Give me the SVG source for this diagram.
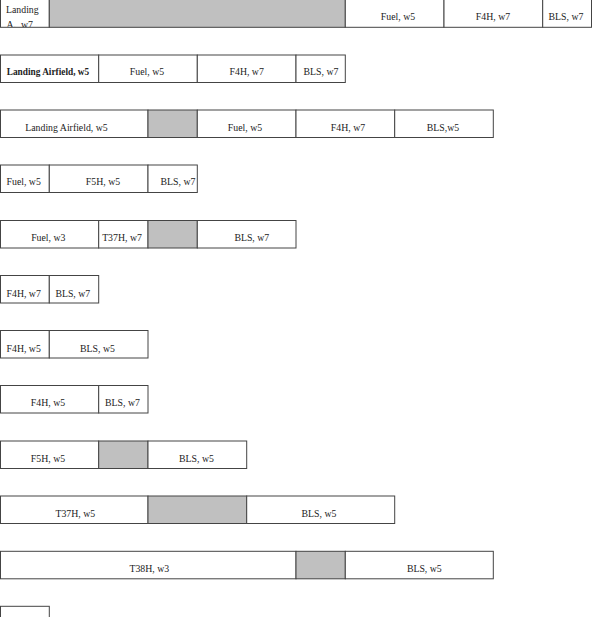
<svg xmlns="http://www.w3.org/2000/svg" width="593" height="617" viewBox="0 0 593 617">
<style>
rect.c{fill:#fff;stroke:#444;stroke-width:1}
rect.g{fill:#c0c0c0;stroke:#444;stroke-width:1}
text{font-family:"Liberation Serif","Times New Roman",serif;font-size:9.8px;fill:#222}
text.m{text-anchor:middle}
text.b{font-weight:bold}
</style>
<defs>
<clipPath id="clipA"><rect x="0" y="0" width="49.3" height="27"/></clipPath>
</defs>
<rect x="0" y="0" width="593" height="617" fill="#fff"/>
<!-- Row 1 -->
<g id="row1">
<g id="r1-landing"><rect class="c" x="0.5" y="-1" width="48.8" height="28.3"/><g clip-path="url(#clipA)"><text x="6" y="13">Landing</text><text x="6.5" y="28">A., w7</text></g></g>
<g id="r1-gap"><rect class="g" x="49.3" y="-1" width="296" height="28.3"/></g>
<g id="r1-fuel"><rect class="c" x="345.3" y="-1" width="98.7" height="28.3"/><text class="m" x="398" y="20">Fuel, w5</text></g>
<g id="r1-f4h"><rect class="c" x="444" y="-1" width="98.7" height="28.3"/><text class="m" x="493" y="20">F4H, w7</text></g>
<g id="r1-bls"><rect class="c" x="542.7" y="-1" width="48.8" height="28.3"/><text class="m" x="566" y="20">BLS, w7</text></g>
</g>
<!-- Row 2 -->
<g id="row2">
<g id="r2-landing"><rect class="c" x="0.5" y="55" width="98.2" height="27.5"/><text class="b" x="6.7" y="75" textLength="82.5" lengthAdjust="spacingAndGlyphs">Landing Airfield, w5</text></g>
<g id="r2-fuel"><rect class="c" x="98.7" y="55" width="98.6" height="27.5"/><text class="m" x="147" y="75">Fuel, w5</text></g>
<g id="r2-f4h"><rect class="c" x="197.3" y="55" width="98.7" height="27.5"/><text class="m" x="246.7" y="75">F4H, w7</text></g>
<g id="r2-bls"><rect class="c" x="296" y="55" width="49.3" height="27.5"/><text class="m" x="321" y="75">BLS, w7</text></g>
</g>
<!-- Row 3 -->
<g id="row3">
<g id="r3-landing"><rect class="c" x="0.5" y="110" width="147.5" height="27.5"/><text class="m" x="66.5" y="130.5">Landing Airfield, w5</text></g>
<g id="r3-gap"><rect class="g" x="148" y="110" width="49.3" height="27.5"/></g>
<g id="r3-fuel"><rect class="c" x="197.3" y="110" width="98.7" height="27.5"/><text class="m" x="245" y="130.5">Fuel, w5</text></g>
<g id="r3-f4h"><rect class="c" x="296" y="110" width="98.7" height="27.5"/><text class="m" x="348" y="130.5">F4H, w7</text></g>
<g id="r3-bls"><rect class="c" x="394.7" y="110" width="98.6" height="27.5"/><text class="m" x="443" y="130.5">BLS,w5</text></g>
</g>
<!-- Row 4 -->
<g id="row4">
<g id="r4-fuel"><rect class="c" x="0.5" y="165" width="48.8" height="27.5"/><text class="m" x="23.7" y="185">Fuel, w5</text></g>
<g id="r4-f5h"><rect class="c" x="49.3" y="165" width="98.7" height="27.5"/><text class="m" x="103" y="185">F5H, w5</text></g>
<g id="r4-bls"><rect class="c" x="148" y="165" width="49.3" height="27.5"/><text class="m" x="178" y="185">BLS, w7</text></g>
</g>
<!-- Row 5 -->
<g id="row5">
<g id="r5-fuel"><rect class="c" x="0.5" y="220.5" width="98.2" height="27.5"/><text class="m" x="48.3" y="240.7">Fuel, w3</text></g>
<g id="r5-t37h"><rect class="c" x="98.7" y="220.5" width="49.3" height="27.5"/><text class="m" x="122" y="240.7">T37H, w7</text></g>
<g id="r5-gap"><rect class="g" x="148" y="220.5" width="49.3" height="27.5"/></g>
<g id="r5-bls"><rect class="c" x="197.3" y="220.5" width="98.7" height="27.5"/><text class="m" x="251.8" y="240.7">BLS, w7</text></g>
</g>
<!-- Row 6 -->
<g id="row6">
<g id="r6-f4h"><rect class="c" x="0.5" y="275.5" width="48.8" height="27.5"/><text class="m" x="23.7" y="296.5">F4H, w7</text></g>
<g id="r6-bls"><rect class="c" x="49.3" y="275.5" width="49.4" height="27.5"/><text class="m" x="72.8" y="296.5">BLS, w7</text></g>
</g>
<!-- Row 7 -->
<g id="row7">
<g id="r7-f4h"><rect class="c" x="0.5" y="330.5" width="48.8" height="27.5"/><text class="m" x="23.7" y="351.5">F4H, w5</text></g>
<g id="r7-bls"><rect class="c" x="49.3" y="330.5" width="98.7" height="27.5"/><text class="m" x="97.5" y="351.5">BLS, w5</text></g>
</g>
<!-- Row 8 -->
<g id="row8">
<g id="r8-f4h"><rect class="c" x="0.5" y="385.5" width="98.2" height="27.5"/><text class="m" x="48" y="406">F4H, w5</text></g>
<g id="r8-bls"><rect class="c" x="98.7" y="385.5" width="49.3" height="27.5"/><text class="m" x="122.5" y="406">BLS, w7</text></g>
</g>
<!-- Row 9 -->
<g id="row9">
<g id="r9-f5h"><rect class="c" x="0.5" y="441" width="98.2" height="27.5"/><text class="m" x="48" y="461.7">F5H, w5</text></g>
<g id="r9-gap"><rect class="g" x="98.7" y="441" width="49.3" height="27.5"/></g>
<g id="r9-bls"><rect class="c" x="148" y="441" width="98.7" height="27.5"/><text class="m" x="196.5" y="461.7">BLS, w5</text></g>
</g>
<!-- Row 10 -->
<g id="row10">
<g id="r10-t37h"><rect class="c" x="0.5" y="496" width="147.5" height="27.5"/><text class="m" x="75.3" y="517">T37H, w5</text></g>
<g id="r10-gap"><rect class="g" x="148" y="496" width="98.7" height="27.5"/></g>
<g id="r10-bls"><rect class="c" x="246.7" y="496" width="148" height="27.5"/><text class="m" x="319" y="517">BLS, w5</text></g>
</g>
<!-- Row 11 -->
<g id="row11">
<g id="r11-t38h"><rect class="c" x="0.5" y="551.3" width="295.5" height="27.5"/><text class="m" x="149.3" y="571.7">T38H, w3</text></g>
<g id="r11-gap"><rect class="g" x="296" y="551.3" width="49.3" height="27.5"/></g>
<g id="r11-bls"><rect class="c" x="345.3" y="551.3" width="148" height="27.5"/><text class="m" x="424.3" y="571.7">BLS, w5</text></g>
</g>
<!-- Row 12 -->
<g id="row12">
<g id="r12-box"><rect class="c" x="0.5" y="606.3" width="48.8" height="27.5"/></g>
</g>
</svg>
